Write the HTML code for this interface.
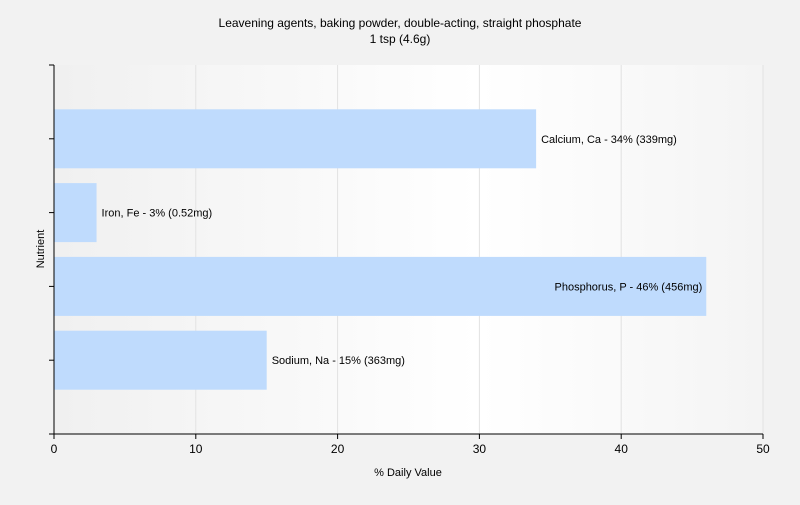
<!DOCTYPE html>
<html><head><meta charset="utf-8"><style>
body{margin:0;background:#f2f2f2;font-family:"Liberation Sans",sans-serif}
svg text{font-family:"Liberation Sans",sans-serif}
</style></head><body>
<svg width="800" height="500">
<defs><linearGradient id="g" x1="0" x2="1" y1="0" y2="0">
<stop offset="0" stop-color="#f0f0f0"/><stop offset="0.6" stop-color="#ffffff"/><stop offset="1" stop-color="#f4f4f4"/></linearGradient></defs>
<rect width="800" height="500" fill="#f2f2f2"/>
<rect x="54" y="65" width="709" height="369" fill="url(#g)"/>
<text x="400" y="27" text-anchor="middle" font-size="12">Leavening agents, baking powder, double-acting, straight phosphate</text>
<text x="400" y="43" text-anchor="middle" font-size="12">1 tsp (4.6g)</text>
<g id="grid"></g><g id="bars"></g><g id="axes"></g>
<text x="408" y="476" text-anchor="middle" font-size="11">% Daily Value</text>
<text transform="translate(44,249) rotate(-90)" text-anchor="middle" font-size="11">Nutrient</text>
</svg>
<script>
const categories=["Calcium, Ca - 34% (339mg)","Iron, Fe - 3% (0.52mg)","Phosphorus, P - 46% (456mg)","Sodium, Na - 15% (363mg)"];
const values=[34,3,46,15];
const xTicks=[0,10,20,30,40,50];
const NS="http://www.w3.org/2000/svg";
const L=54,R=763,T=65,B=434,xmax=50;
const x=v=>L+(R-L)*v/xmax;
const band=(B-T)/(categories.length+1);
const yc=i=>T+band*(i+1);
function mk(t,a,p){const e=document.createElementNS(NS,t);for(const k in a)e.setAttribute(k,a[k]);p.appendChild(e);return e;}
const grid=document.getElementById('grid'),bars=document.getElementById('bars'),axes=document.getElementById('axes');
xTicks.forEach(t=>{
 if(t>0){const gl=mk('line',{x1:x(t),x2:x(t),y1:T,y2:B,stroke:'#e2e2e2'},grid);
 
 }
 const tk=mk('line',{x1:x(t),x2:x(t),y1:B,y2:B+5,stroke:'#000'},axes);
 
 
 const tl=mk('text',{x:x(t),y:B+19,'text-anchor':'middle','font-size':12,fill:'#000'},axes);
 tl.textContent=t;
 
 
});
const bh=59;
categories.forEach((c,i)=>{
 const r=mk('rect',{x:L,y:yc(i)-bh/2,width:x(values[i])-L,height:bh,fill:'#bfdbfd'},bars);
 
 
 const inside=x(values[i])+150>R;
 const tx=mk('text',{x:inside?x(values[i])-4:x(values[i])+5,y:yc(i)+4,'text-anchor':inside?'end':'start','font-size':11,fill:'#000'},bars);
 tx.textContent=c;
 
 
});
for(let i=0;i<=categories.length+1;i++){
 const yt=mk('line',{x1:L-5,x2:L,y1:T+band*i,y2:T+band*i,stroke:'#000'},axes);
 
 
}
const ya=mk('line',{x1:L,x2:L,y1:T,y2:B,stroke:'#000'},axes);


const xa=mk('line',{x1:L-5,x2:R,y1:B,y2:B,stroke:'#000'},axes);


</script>
</body></html>
